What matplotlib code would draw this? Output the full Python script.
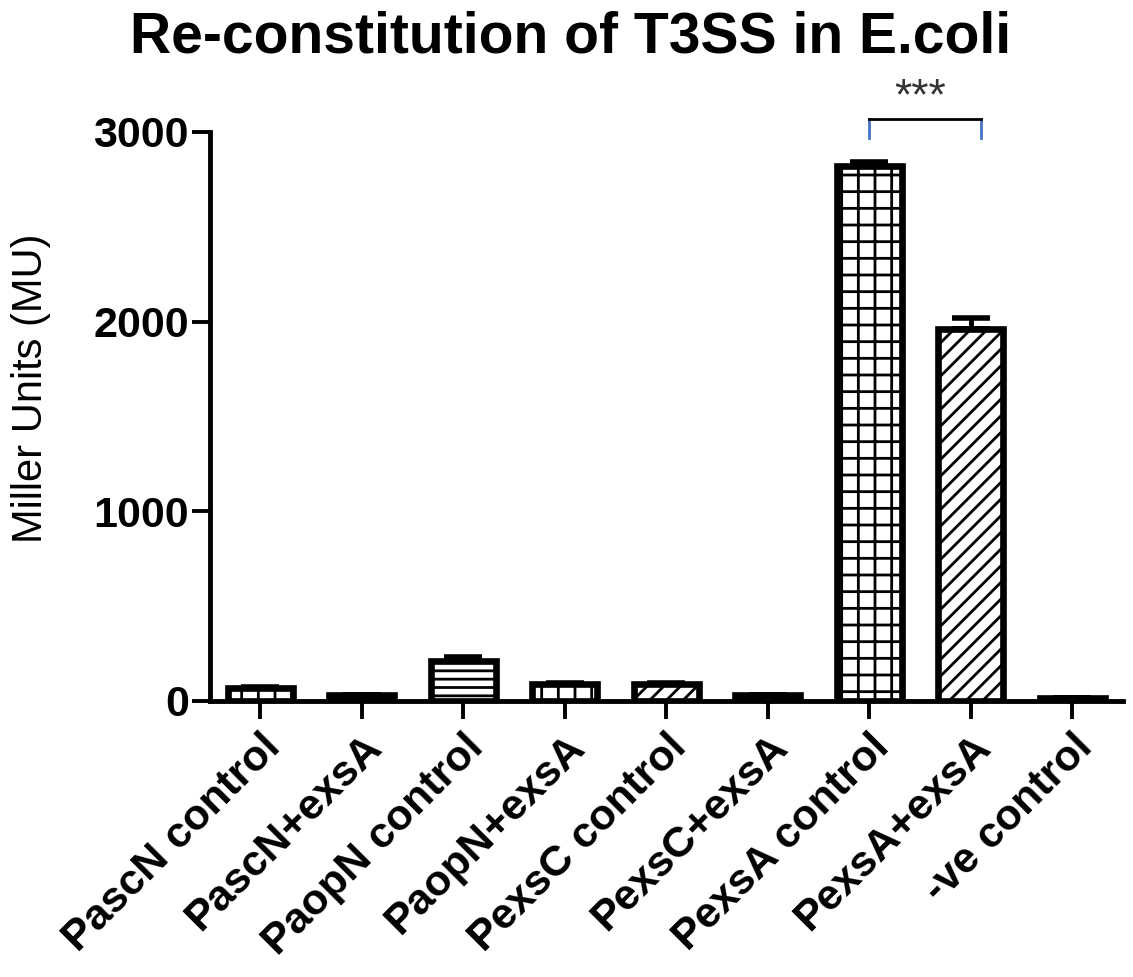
import matplotlib
matplotlib.use("Agg")
import matplotlib.pyplot as plt
import numpy as np

# data
groups = ["PascN control", "PascN+exsA", "PaopN control", "PaopN+exsA",
          "PexsC control", "PexsC+exsA", "PexsA control", "PexsA+exsA",
          "-ve control"]
miller_units = [70, 30, 210, 90, 90, 30, 2820, 1960, 15]
errors = [5, 3, 20, 6, 6, 3, 20, 60, 2]
hatches = ["|", "", "--", "|", "//", "", "+", "//", ""]

plt.rcParams['font.family'] = ['Liberation Sans', 'DejaVu Sans']
plt.rcParams['hatch.linewidth'] = 2.0

fig = plt.figure(figsize=(11.33, 9.77), dpi=100)
ax = fig.add_axes([0.185, 0.2825, 0.806, 0.5825])

x = np.arange(len(groups))
bars = ax.bar(x, miller_units, width=0.64, color="white", edgecolor="black",
              linewidth=4.8, zorder=3)
for b, h in zip(bars, hatches):
    b.set_hatch(h)
    if h == "":
        b.set_facecolor("black")

# only the upper error bar, as in the original
ax.errorbar(x, miller_units, yerr=[np.zeros(len(errors)), errors], fmt="none",
            ecolor="black", elinewidth=3.5, capsize=14, capthick=4, zorder=4)

ax.set_xlim(-0.5, 8.5)
ax.set_ylim(0, 3000)
ax.set_yticks([0, 1000, 2000, 3000])
ax.set_xticks(x)
ax.set_xticklabels(groups, rotation=45, ha="right", rotation_mode="anchor",
                   fontsize=31, fontweight="bold")
for lbl in ax.get_yticklabels():
    lbl.set_fontsize(31)
    lbl.set_fontweight("bold")

ax.spines["top"].set_visible(False)
ax.spines["right"].set_visible(False)
ax.spines["left"].set_linewidth(3.5)
ax.spines["bottom"].set_linewidth(3.5)
ax.tick_params(axis="both", direction="out", length=13, width=2.8, pad=2)
ax.tick_params(axis="x", pad=6)

# significance bracket
ax.plot([6.0, 6.0], [2968, 3069], color="#4472c4", lw=2, clip_on=False)
ax.plot([7.1, 7.1], [2968, 3069], color="#4472c4", lw=2, clip_on=False)
ax.plot([6.0, 7.1], [3069, 3069], color="black", lw=2, clip_on=False)
ax.text(6.5, 3180, "***", ha="center", va="center", fontsize=32,
        color="#333333", clip_on=False)

fig.text(0.027, 1 - 388 / 977, "Miller Units (MU)", rotation=90,
         ha="center", va="center", fontsize=30)
fig.text(0.504, 0.962, "Re-constitution of T3SS in E.coli", ha="center",
         va="center", fontsize=41, fontweight="bold")

fig.savefig("out.png", dpi=100)
